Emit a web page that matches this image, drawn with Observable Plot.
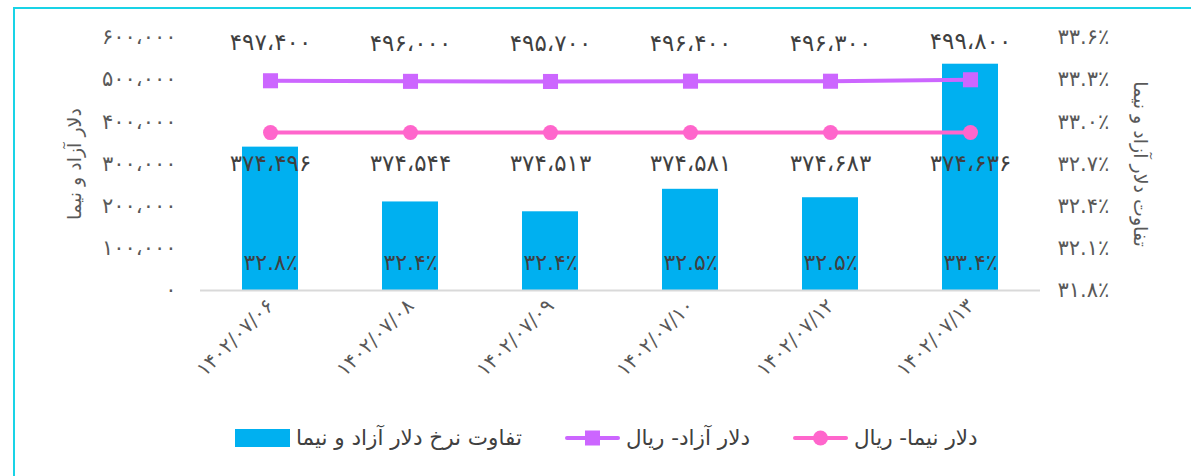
<!DOCTYPE html>
<html>
<head>
<meta charset="utf-8">
<script src="https://cdn.jsdelivr.net/npm/d3@7"></script>
<script src="https://cdn.jsdelivr.net/npm/@observablehq/plot@0.6"></script>
<style>
  html, body { margin: 0; padding: 0; background: #fff; }
  body { width: 1191px; height: 476px; position: relative; overflow: hidden; font-family: "DejaVu Sans", sans-serif; }
  #frame { position: absolute; left: 13px; top: 7px; width: 1300px; height: 600px; border: 2px solid #19D3E6; box-sizing: border-box; }
  #chart { position: absolute; left: 0; top: 0; }
  #legend { position: absolute; left: 235px; top: 425px; display: flex; align-items: center; color: #404040; font-size: 21.5px; direction: ltr; }
  .item { display: flex; align-items: center; margin-right: 43px; white-space: nowrap; }
  .item span { margin-left: 6px; direction: rtl; }
</style>
</head>
<body>
<div id="frame"></div>
<div id="chart"></div>
<div id="legend"></div>
<script>
const dates = ["1402/07/06", "1402/07/08", "1402/07/09", "1402/07/10", "1402/07/12", "1402/07/13"];
const freeRate = [497400, 496000, 495700, 496400, 496300, 499800];
const nimaRate = [374496, 374544, 374513, 374581, 374683, 374636];
const gapPct = [32.82, 32.43, 32.36, 32.52, 32.46, 33.41];
const leftTicks = [0, 100000, 200000, 300000, 400000, 500000, 600000];
const rightTicks = [31.8, 32.1, 32.4, 32.7, 33.0, 33.3, 33.6];
const leftTitle = "دلار آزاد و نیما";
const rightTitle = "تفاوت دلار آزاد و نیما";
const seriesNames = ["تفاوت نرخ دلار آزاد و نیما", "دلار آزاد- ریال", "دلار نیما- ریال"];
const colors = ["#00B0F0", "#CC66FF", "#FF66CC"];

const faDigits = "۰۱۲۳۴۵۶۷۸۹";
const toFa = s => String(s).replace(/\d/g, d => faDigits[+d]);
const fmtNum = v => toFa(d3.format(",")(v)).replace(/,/g, "،");
const fmtPct = v => toFa(d3.format(".1f")(v)) + "٪";

// secondary axis mapping: percent -> primary (rial) units
const pctToY = d3.scaleLinear().domain([rightTicks[0], rightTicks[rightTicks.length - 1]]).range([leftTicks[0], leftTicks[leftTicks.length - 1]]);

const rows = dates.map((d, i) => ({date: d, free: freeRate[i], nima: nimaRate[i], pct: gapPct[i], base: leftTicks[0]}));

const font = "DejaVu Sans, sans-serif";
const chart = Plot.plot({
  width: 1191,
  height: 410,
  marginLeft: 200,
  marginRight: 151,
  marginTop: 37,
  marginBottom: 120,
  style: {fontFamily: font, color: "#595959", background: "transparent", overflow: "visible"},
  x: {domain: dates, paddingInner: 0.6, paddingOuter: 0.3, label: null},
  y: {domain: [leftTicks[0], leftTicks[leftTicks.length - 1]], label: null},
  marks: [
    Plot.barY(rows, {x: "date", y1: "base", y2: d => pctToY(d.pct), fill: colors[0]}),
    Plot.ruleY([leftTicks[0]], {stroke: "#D9D9D9", strokeWidth: 2}),
    Plot.line(rows, {x: "date", y: "free", stroke: colors[1], strokeWidth: 4}),
    Plot.dot(rows, {x: "date", y: "free", symbol: "square", r: 8.5, fill: colors[1]}),
    Plot.line(rows, {x: "date", y: "nima", stroke: colors[2], strokeWidth: 4}),
    Plot.dot(rows, {x: "date", y: "nima", symbol: "circle", r: 7.5, fill: colors[2]}),
    Plot.text(rows, {x: "date", y: "free", text: d => fmtNum(d.free), dy: -38, fontSize: 23, fill: "#404040"}),
    Plot.text(rows, {x: "date", y: "nima", text: d => fmtNum(d.nima), dy: 31, fontSize: 23, fill: "#404040"}),
    Plot.text(rows, {x: "date", y: "base", text: d => fmtPct(d.pct), dy: -28, fontSize: 22, fill: "#404040"}),
    Plot.axisX({tickSize: 0, tickPadding: 12, tickRotate: -45, fontSize: 20, tickFormat: toFa, label: null}),
    Plot.axisY({anchor: "left", ticks: leftTicks, tickSize: 0, tickPadding: 24, fontSize: 21, tickFormat: fmtNum, label: null}),
    Plot.axisY({anchor: "right", ticks: rightTicks.map(pctToY), tickSize: 0, tickPadding: 17, fontSize: 21, tickFormat: v => fmtPct(pctToY.invert(v)), label: null}),
    Plot.text([leftTitle], {frameAnchor: "left", textAnchor: "middle", dx: -126, rotate: -90, fontSize: 19, fill: "#595959"}),
    Plot.text([rightTitle], {frameAnchor: "right", textAnchor: "middle", dx: 100, rotate: 90, fontSize: 19, fill: "#595959"})
  ]
});
document.getElementById("chart").appendChild(chart);

// legend
const legend = document.getElementById("legend");
const swatches = [
  `<svg width="55" height="18"><rect x="0" y="0" width="55" height="18" fill="${colors[0]}"/></svg>`,
  `<svg width="55" height="18"><line x1="2" y1="9" x2="53" y2="9" stroke="${colors[1]}" stroke-width="4" stroke-linecap="round"/><rect x="20" y="1.5" width="15" height="15" fill="${colors[1]}"/></svg>`,
  `<svg width="55" height="18"><line x1="2" y1="9" x2="53" y2="9" stroke="${colors[2]}" stroke-width="4" stroke-linecap="round"/><circle cx="27.5" cy="9" r="7.5" fill="${colors[2]}"/></svg>`
];
seriesNames.forEach((name, i) => {
  const el = document.createElement("div");
  el.className = "item";
  el.innerHTML = swatches[i] + `<span>${name}</span>`;
  legend.appendChild(el);
});
</script>
</body>
</html>
